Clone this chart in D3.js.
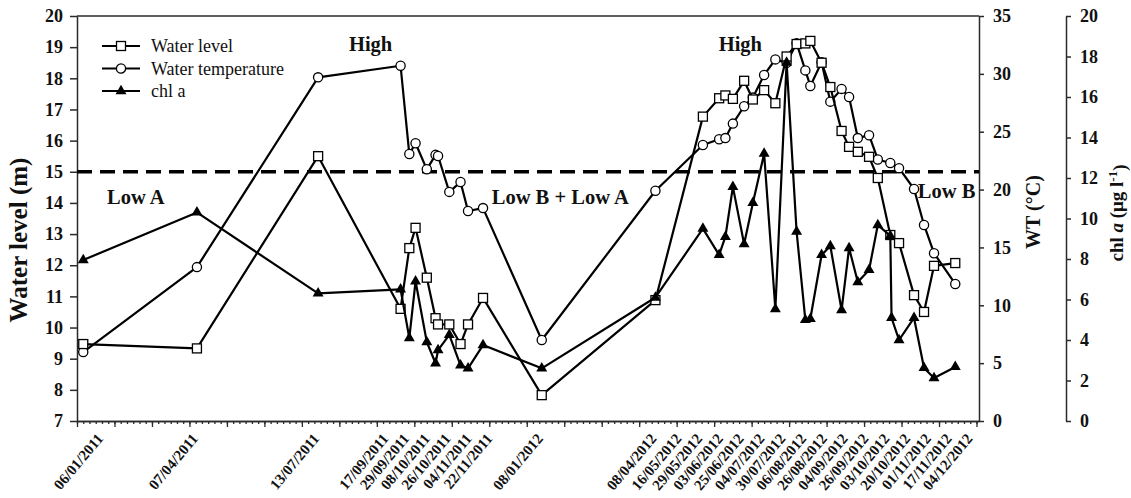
<!DOCTYPE html>
<html>
<head>
<meta charset="utf-8">
<script src="https://cdn.jsdelivr.net/npm/d3@7"></script>
<style>
  body { margin: 0; background: #fff; }
  text { font-family: "Liberation Serif", "Times New Roman", serif; fill: #111; }
</style>
</head>
<body>
<div id="chart"></div>
<script>
//Data
const sampleDates = [
  "2011-01-06", "2011-04-07", "2011-07-13", "2011-09-17", "2011-09-24", "2011-09-29",
  "2011-10-08", "2011-10-15", "2011-10-17", "2011-10-26", "2011-11-04", "2011-11-10",
  "2011-11-22", "2012-01-08", "2012-04-08", "2012-05-16", "2012-05-29", "2012-06-03",
  "2012-06-09", "2012-06-18", "2012-06-25", "2012-07-04", "2012-07-13", "2012-07-22",
  "2012-07-30", "2012-08-06", "2012-08-10", "2012-08-19", "2012-08-26", "2012-09-04",
  "2012-09-10", "2012-09-17", "2012-09-26", "2012-10-03", "2012-10-13", "2012-10-20",
  "2012-11-01", "2012-11-09", "2012-11-17", "2012-12-04"
];
const waterLevel = [
  9.47, 9.33, 15.5, 10.6, 12.55, 13.2,
  11.6, 10.3, 10.1, 10.1, 9.47, 10.1,
  10.95, 7.83, 10.88, 16.77, 17.36, 17.45,
  17.34, 17.92, 17.32, 17.62, 17.2, 18.7,
  19.1, 19.12, 19.2, 18.5, 17.72, 16.31,
  15.8, 15.64, 15.48, 14.8, 12.97, 12.71,
  11.04, 10.5, 11.98, 12.07
];
const waterTemp = [
  5.96, 13.3, 29.7, 30.7, 23.07, 24.0,
  21.75, 23.0, 22.9, 19.8, 20.65, 18.15,
  18.4, 7.0, 19.9, 23.85, 24.35, 24.45,
  25.7, 27.2, 27.95, 29.9, 31.25, 30.95,
  32.65, 30.3, 28.95, 31.0, 27.6, 28.7,
  28.0, 24.45, 24.7, 22.6, 22.3, 21.85,
  20.05, 16.94, 14.5, 11.84
];
const chlDates = [
  "2011-01-06", "2011-04-07", "2011-07-13", "2011-09-17", "2011-09-24", "2011-09-29",
  "2011-10-08", "2011-10-15", "2011-10-17", "2011-10-26", "2011-11-04", "2011-11-10",
  "2011-11-22", "2012-01-08", "2012-04-08", "2012-05-16", "2012-05-29", "2012-06-03",
  "2012-06-09", "2012-06-18", "2012-06-25", "2012-07-04", "2012-07-13", "2012-07-22",
  "2012-07-30", "2012-08-06", "2012-08-10", "2012-08-19", "2012-08-26", "2012-09-04",
  "2012-09-10", "2012-09-17", "2012-09-26", "2012-10-03", "2012-10-13", "2012-10-14",
  "2012-10-20", "2012-11-01", "2012-11-09", "2012-11-17", "2012-12-04"
];
const chlA = [
  7.95, 10.3, 6.3, 6.5, 4.1, 6.9,
  3.9, 2.85, 3.5, 4.25, 2.75, 2.6,
  3.75, 2.6, 6.1, 9.5, 8.2, 9.1,
  11.56, 8.74, 10.77, 13.2, 5.53, 17.7,
  9.35, 4.99, 5.05, 8.2, 8.64, 5.48,
  8.54, 6.86, 7.46, 9.68, 9.14, 5.09,
  4.0, 5.09, 2.62, 2.12, 2.67
];
const tickLabelDates = [
  "2011-01-06", "2011-04-07", "2011-07-13", "2011-09-17", "2011-09-29", "2011-10-08",
  "2011-10-26", "2011-11-04", "2011-11-22", "2012-01-08", "2012-04-08", "2012-05-16",
  "2012-05-29", "2012-06-03", "2012-06-25", "2012-07-04", "2012-07-30", "2012-08-06",
  "2012-08-26", "2012-09-04", "2012-09-26", "2012-10-03", "2012-10-20", "2012-11-01",
  "2012-11-17", "2012-12-04"
];
const levelTicks = d3.range(7, 21, 1);
const tempTicks = d3.range(0, 36, 5);
const chlTicks = d3.range(0, 21, 2);
const thresholdLevel = 15;

//Period annotations (date, water level of the baseline)
const periodNotes = [
  { text: "Low A", date: "2011-01-25", level: 13.97, anchor: "start" },
  { text: "High", date: "2011-08-24", level: 18.88, anchor: "middle" },
  { text: "Low B + Low A", date: "2011-11-29", level: 13.97, anchor: "start" },
  { text: "High", date: "2012-06-15", level: 18.88, anchor: "middle" },
  { text: "Low B", date: "2012-11-04", level: 14.16, anchor: "start" }
];

//Size
const W = 1131, H = 498;
const margin = { top: 16, left: 77, right: 152, bottom: 77 };
const width = W - margin.left - margin.right;
const height = H - margin.top - margin.bottom;

const parseDate = d3.timeParse("%Y-%m-%d");
const formatLabel = d3.timeFormat("%d/%m/%Y");

const xScale = d3.scaleTime()
  .domain([parseDate("2011-01-01"), parseDate("2012-12-23")])
  .range([0, width]);
const yLevel = d3.scaleLinear().domain([7, 20]).range([height, 0]);
const yTemp = d3.scaleLinear().domain([0, 35]).range([height, 0]);
const yChl = d3.scaleLinear().domain([0, 20]).range([height, 0]);

const svg = d3.select("#chart").append("svg")
  .attr("width", W).attr("height", H);
const g = svg.append("g")
  .attr("transform", "translate(" + margin.left + "," + margin.top + ")");

const axisColor = "#2a2a2a";

//Top frame line
g.append("line")
  .attr("x1", 0).attr("x2", width).attr("y1", 0).attr("y2", 0)
  .attr("stroke", axisColor).attr("stroke-width", 1.5);

//Left axis
const yAxisLeft = g.append("g")
  .call(d3.axisLeft(yLevel).tickValues(levelTicks).tickSize(7).tickSizeOuter(0).tickPadding(7));
//WT axis
const yAxisTemp = g.append("g")
  .attr("transform", "translate(" + width + ",0)")
  .call(d3.axisRight(yTemp).tickValues(tempTicks).tickSize(5).tickSizeOuter(0).tickPadding(9));
//chl a axis
const chlAxisX = width + 87;
const yAxisChl = g.append("g")
  .attr("transform", "translate(" + chlAxisX + ",0)")
  .call(d3.axisRight(yChl).tickValues(chlTicks).tickSize(5).tickSizeOuter(0).tickPadding(9));

[yAxisLeft, yAxisTemp, yAxisChl].forEach(function(a) {
  a.selectAll("path, line").attr("stroke", axisColor).attr("stroke-width", 1.5);
  a.selectAll("text")
    .attr("font-family", "Liberation Serif, Times New Roman, serif")
    .attr("font-weight", "bold")
    .attr("font-size", "18px")
    .attr("fill", "#111");
});

//X axis: minor ticks every 5 days, longer ones every 30 days
const start = xScale.domain()[0], end = xScale.domain()[1];
const minorTicks = d3.timeDay.range(start, d3.timeDay.offset(end, 1), 5);
const majorTicks = minorTicks.filter(function(d, i) { return i % 6 === 0; });

const xMinor = g.append("g")
  .attr("transform", "translate(0," + height + ")")
  .call(d3.axisBottom(xScale).tickValues(minorTicks).tickSize(3).tickSizeOuter(0).tickFormat(""));
const xMajor = g.append("g")
  .attr("transform", "translate(0," + height + ")")
  .call(d3.axisBottom(xScale).tickValues(majorTicks).tickSize(6).tickSizeOuter(0).tickFormat(""));
[xMinor, xMajor].forEach(function(a) {
  a.selectAll("path, line").attr("stroke", axisColor).attr("stroke-width", 1.3);
});

//Date labels, pushed apart where they crowd
function spread(xs, gap, lo, hi) {
  const p = xs.slice();
  for (let k = 0; k < 300; k++) {
    for (let i = 1; i < p.length; i++) {
      const d = p[i] - p[i - 1];
      if (d < gap) {
        const m = (gap - d) / 2;
        p[i - 1] -= m;
        p[i] += m;
      }
    }
    p[0] = Math.max(p[0], lo);
    p[p.length - 1] = Math.min(p[p.length - 1], hi);
  }
  return p;
}
const labelDates = tickLabelDates.map(parseDate);
// first label kept clear of the y tick numbers
const labelX = spread(labelDates.map(function(d) { return xScale(d); }), 20.8, 25, width + 2);

g.append("g").selectAll("text")
  .data(labelDates).enter()
  .append("text")
    .attr("transform", function(d, i) {
      return "translate(" + (labelX[i] + 2) + "," + (height + 18) + ") rotate(-50)";
    })
    .attr("text-anchor", "end")
    .attr("font-weight", "bold")
    .attr("font-size", "15px")
    .text(function(d) { return formatLabel(d); });

//Axis titles
g.append("text")
  .attr("transform", "rotate(-90)")
  .attr("x", -224)
  .attr("y", -margin.left + 27)
  .attr("text-anchor", "middle")
  .attr("font-weight", "bold")
  .attr("font-size", "25px")
  .text("Water level (m)");

g.append("text")
  .attr("transform", "rotate(-90)")
  .attr("x", -196)
  .attr("y", width + 61)
  .attr("text-anchor", "middle")
  .attr("font-weight", "bold")
  .attr("font-size", "20px")
  .text("WT (°C)");

const chlTitle = g.append("text")
  .attr("transform", "rotate(-90)")
  .attr("x", -197)
  .attr("y", chlAxisX + 57)
  .attr("text-anchor", "middle")
  .attr("font-weight", "bold")
  .attr("font-size", "19px");
chlTitle.append("tspan").text("chl ");
chlTitle.append("tspan").attr("font-style", "italic").text("a");
chlTitle.append("tspan").text(" (μg l");
chlTitle.append("tspan").attr("dy", "-0.45em").attr("font-size", "13px").text("-1");
chlTitle.append("tspan").attr("dy", "0.45em").text(")");

//Threshold line at 15 m
g.append("line")
  .attr("x1", 0).attr("x2", width)
  .attr("y1", yLevel(thresholdLevel)).attr("y2", yLevel(thresholdLevel))
  .attr("stroke", "#000")
  .attr("stroke-width", 3.5)
  .attr("stroke-dasharray", "15,8");

//Period labels
g.append("g").selectAll("text")
  .data(periodNotes).enter()
  .append("text")
    .attr("x", function(d) { return xScale(parseDate(d.date)); })
    .attr("y", function(d) { return yLevel(d.level); })
    .attr("text-anchor", function(d) { return d.anchor; })
    .attr("font-weight", "bold")
    .attr("font-size", "20.5px")
    .text(function(d) { return d.text; });

//Series
const levelData = sampleDates.map(function(d, i) { return { date: parseDate(d), v: waterLevel[i] }; });
const tempData = sampleDates.map(function(d, i) { return { date: parseDate(d), v: waterTemp[i] }; });
const chlData = chlDates.map(function(d, i) { return { date: parseDate(d), v: chlA[i] }; });

function drawLine(data, yS) {
  g.append("path")
    .datum(data)
    .attr("fill", "none")
    .attr("stroke", "#000")
    .attr("stroke-width", 2.2)
    .attr("stroke-linejoin", "round")
    .attr("d", d3.line()
      .x(function(d) { return xScale(d.date); })
      .y(function(d) { return yS(d.v); }));
}

drawLine(tempData, yTemp);
g.append("g").selectAll("circle")
  .data(tempData).enter()
  .append("circle")
    .attr("cx", function(d) { return xScale(d.date); })
    .attr("cy", function(d) { return yTemp(d.v); })
    .attr("r", 4.6)
    .attr("fill", "#fff")
    .attr("stroke", "#000")
    .attr("stroke-width", 1.3);

drawLine(levelData, yLevel);
g.append("g").selectAll("rect")
  .data(levelData).enter()
  .append("rect")
    .attr("x", function(d) { return xScale(d.date) - 4.5; })
    .attr("y", function(d) { return yLevel(d.v) - 4.5; })
    .attr("width", 9).attr("height", 9)
    .attr("fill", "#fff")
    .attr("stroke", "#000")
    .attr("stroke-width", 1.3);

drawLine(chlData, yChl);
const triangle = d3.symbol().type(d3.symbolTriangle).size(52);
g.append("g").selectAll("path")
  .data(chlData).enter()
  .append("path")
    .attr("transform", function(d) { return "translate(" + xScale(d.date) + "," + yChl(d.v) + ")"; })
    .attr("d", triangle)
    .attr("fill", "#000");

//Legend
const legendItems = ["Water level", "Water temperature", "chl a"];
const legend = g.append("g").attr("transform", "translate(25,30)");
legendItems.forEach(function(name, i) {
  const row = legend.append("g").attr("transform", "translate(0," + (i * 22.5) + ")");
  row.append("line")
    .attr("x1", 0).attr("x2", 38).attr("y1", 0).attr("y2", 0)
    .attr("stroke", "#000").attr("stroke-width", 2.2);
  if (i === 0) {
    row.append("rect").attr("x", 14.5).attr("y", -4.5).attr("width", 9).attr("height", 9)
      .attr("fill", "#fff").attr("stroke", "#000").attr("stroke-width", 1.3);
  } else if (i === 1) {
    row.append("circle").attr("cx", 19).attr("cy", 0).attr("r", 4.6)
      .attr("fill", "#fff").attr("stroke", "#000").attr("stroke-width", 1.3);
  } else {
    row.append("path").attr("transform", "translate(19,0)").attr("d", triangle).attr("fill", "#000");
  }
  row.append("text")
    .attr("x", 49).attr("y", 6)
    .attr("font-size", "18px")
    .text(name);
});
</script>
</body>
</html>
